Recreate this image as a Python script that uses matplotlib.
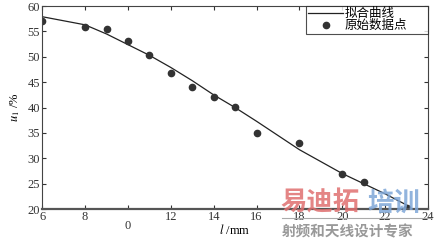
import numpy as np
import matplotlib
matplotlib.use("Agg")
import matplotlib.pyplot as plt

plt.rcParams['font.family'] = ['Liberation Serif', 'Noto Sans CJK SC', 'DejaVu Sans']
plt.rcParams['mathtext.fontset'] = 'stix'

# raw data points
pts_x = [6, 8, 9, 10, 11, 12, 13, 14, 15, 16, 18, 20, 21, 23]
pts_y = [57.0, 55.9, 55.5, 53.2, 50.4, 46.9, 44.1, 42.0, 40.1, 35.0, 33.0, 26.9, 25.3, 20.3]

# fitted curve
fit_x = [6, 8, 9, 10, 11, 12, 13, 14, 15, 16, 18, 20, 22, 23]
fit_y = [57.9, 56.3, 54.5, 52.4, 50.3, 47.9, 45.3, 42.5, 40.0, 37.3, 31.7, 27.0, 23.0, 20.8]

xticks = [6, 8, 10, 12, 14, 16, 18, 20, 22, 24]
xticklabels = ['6', '8', '0', '12', '14', '16', '18', '20', '22', '24']
yticks = [20, 25, 30, 35, 40, 45, 50, 55, 60]

fig = plt.figure(figsize=(4.35, 2.42), dpi=100)
ax = fig.add_axes([0.097, 0.136, 0.887, 0.839])

ax.plot(fit_x, fit_y, color='#222222', lw=0.9, label='拟合曲线')
ax.plot(pts_x, pts_y, 'o', color='#333333', ms=4.5, label='原始数据点')

ax.set_xlim(6, 24)
ax.set_ylim(20, 60)
ax.set_xticks(xticks)
ax.set_xticklabels(xticklabels)
ax.set_yticks(yticks)
ax.tick_params(direction='in', length=3, width=0.8, labelsize=9, pad=1.5,
               top=True, right=True, colors='#333333')
ax.xaxis.get_major_ticks()[2].set_pad(8)

for s in ax.spines.values():
    s.set_color('#444444')
    s.set_linewidth(0.8)
ax.spines['bottom'].set_linewidth(1.6)
ax.spines['bottom'].set_color('#555555')

ax.set_xlabel('$l$ /mm', fontsize=9)
ax.xaxis.set_label_coords(0.5, -0.105)
ax.xaxis.label.set_va('center')
ax.set_ylabel('$u_1$ /%', fontsize=9, labelpad=4)

leg = ax.legend(loc='upper left', bbox_to_anchor=(0.685, 1.0, 0.315, 0), mode='expand',
                fontsize=9, frameon=True, fancybox=False,
                edgecolor='#222222', borderaxespad=0, handlelength=2.8,
                handletextpad=0.1, borderpad=0.15, labelspacing=0.0)
leg.get_frame().set_linewidth(0.8)

# watermark
fig.text(0.645, 0.105, '易迪拓', color='#e07070', fontsize=19, fontweight='bold',
         family=['Noto Sans CJK SC'], alpha=0.85, va='bottom')
fig.text(0.845, 0.105, '培训', color='#7fa7d8', fontsize=19, fontweight='bold',
         family=['Noto Sans CJK SC'], alpha=0.85, va='bottom')
fig.add_artist(plt.Line2D([0.648, 0.99], [0.1, 0.1], color='#aaaaaa', lw=0.8))
fig.text(0.648, 0.01, '射频和天线设计专家', color='#999999', fontsize=10.5,
         fontweight='bold', family=['Noto Sans CJK SC'], va='bottom')

fig.savefig('out.png', dpi=100)
